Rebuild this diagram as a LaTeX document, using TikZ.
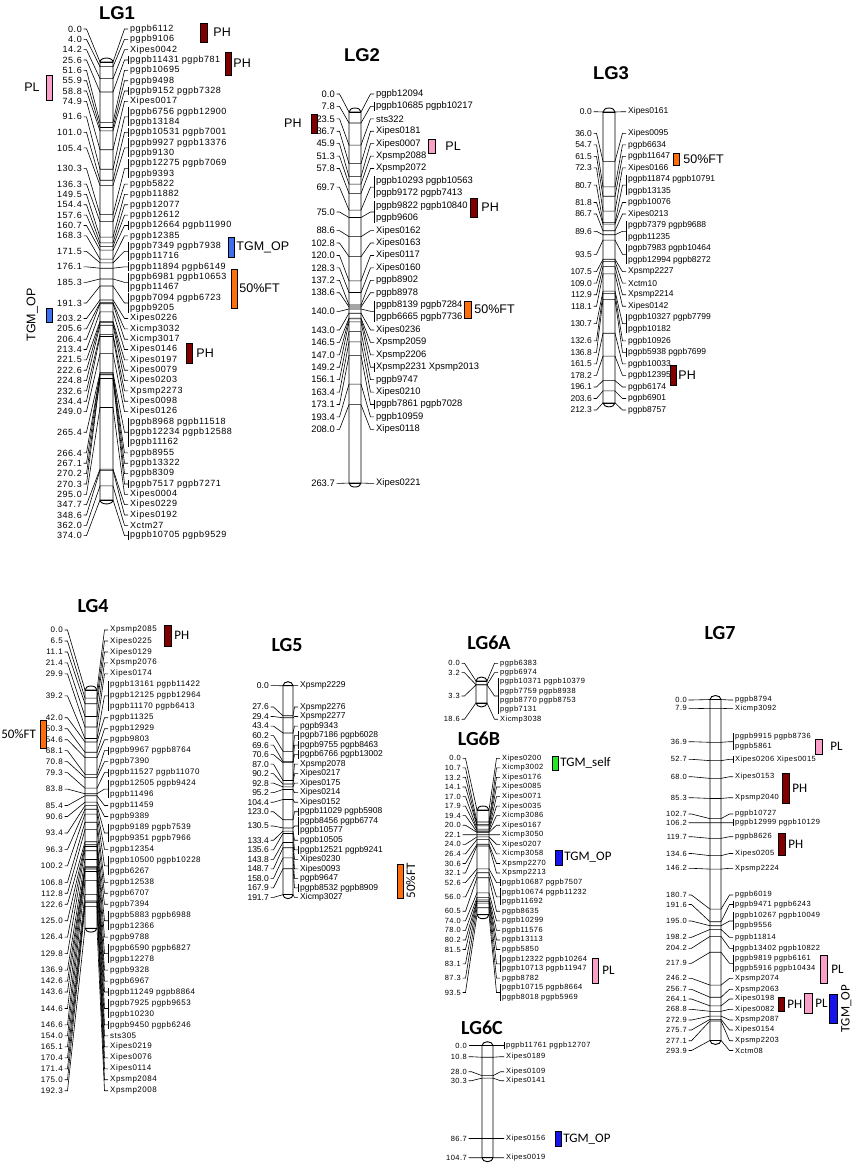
\documentclass[tikz,border=0pt]{standalone}
\usepackage{fontspec}
\setmainfont{Liberation Sans}
\newfontfamily\mapfont[LetterSpace=6]{Liberation Sans}
\newfontfamily\calfont{Carlito}
\usetikzlibrary{positioning}

\definecolor{phcol}{RGB}{128,0,0}
\definecolor{plcol}{RGB}{250,160,200}
\definecolor{ftcol}{RGB}{255,110,10}
\definecolor{opcol}{RGB}{20,20,235}
\definecolor{oplight}{RGB}{60,110,240}
\definecolor{selfcol}{RGB}{40,230,40}

\tikzset{
  lgtitle/.style={inner sep=0pt, font=\bfseries\fontsize{18.5}{20}\selectfont},
  lgtitleb/.style={inner sep=0pt, font=\calfont\bfseries\fontsize{20}{22}\selectfont},
  numlab/.style={anchor=east, inner sep=0pt, font=\lgfont},
  mklab/.style={anchor=west, inner sep=0pt, align=left, font=\lgfont},
  bar/.style={line width=0.9pt, fill=white},
  conn/.style={line width=0.6pt},
  qtl/.style={draw, line width=0.5pt, inner sep=0pt, minimum width=6pt},
  qtltext/.style={inner sep=0pt, font=\fontsize{12.5}{14}\selectfont},
  qtlcal/.style={inner sep=0pt, font=\calfont\fontsize{13}{14}\selectfont},
}

% bar x, bar width, y of 0 cM, px per cM, length, first label y, label pitch, number x, marker x
\newcommand{\setlg}[9]{%
  \def\lgbx{#1}\def\lgbw{#2}\def\lgtz{#3}\def\lgsc{#4}\def\lgcm{#5}%
  \def\lglz{#6}\def\lglp{#7}\def\lgnx{#8}\def\lgmx{#9}}

% one linkage group: #1 name prefix, #2 list of cM/slot/bracket/markers
\newcommand{\drawlg}[2]{%
  \pgfmathsetmacro{\lgtm}{\lgtz+\lgsc*\lgcm}
  \draw[bar] (\lgbx,\lgtz) arc[start angle=180,end angle=360,x radius=\lgbw/2,y radius=4]
    -- (\lgbx+\lgbw,\lgtm) arc[start angle=0,end angle=180,x radius=\lgbw/2,y radius=4] -- cycle;
  \draw[conn] (\lgbx,\lgtz) -- ++(\lgbw,0) (\lgbx,\lgtm) -- ++(\lgbw,0);
  \foreach \lgc/\lgk/\lgb/\lgm [count=\i] in {#2} {
    \pgfmathsetmacro{\yt}{\lgtz+\lgsc*\lgc}
    \pgfmathsetmacro{\yl}{\lglz+\lglp*\lgk}
    \coordinate (#1-tl-\i) at (\lgbx,\yt);
    \coordinate (#1-tr-\i) at (\lgbx+\lgbw,\yt);
    \node[numlab] (#1-num-\i) at (\lgnx,\yl) {\lgc};
    \node[mklab] (#1-mk-\i) at (\lgmx,\yl) {\lgm};
    \draw[conn] ([xshift=1.5]#1-num-\i.east) -- ([xshift=4.5]#1-num-\i.east) -- (#1-tl-\i)
      -- (#1-tr-\i) -- ([xshift=-5.5]#1-mk-\i.west) -- ([xshift=-2]#1-mk-\i.west);
    \ifnum\lgb=1
      \draw[conn] ([xshift=-2]#1-mk-\i.north west) -- ([xshift=-2]#1-mk-\i.south west);
    \fi
  }
}

\begin{document}
\begin{tikzpicture}[x=1pt,y=-1pt]
  \useasboundingbox (0,0) rectangle (855,1168);

  % LG1
  \node[lgtitle] (lg1) at (117,13) {LG1};
  \def\lgfont{\mapfont\fontsize{9}{10.34}\selectfont}
  \setlg{100}{13}{62}{1.171}{374}{29}{10.34}{82}{130}
  \drawlg{lg1}{0.0/0/0/pgpb6112, 4.0/1/0/pgpb9106, 14.2/2/0/Xipes0042,
    25.6/3/1/pgpb11431 pgpb781, 51.6/4/0/pgpb10695, 55.9/5/0/pgpb9498,
    58.8/6/1/pgpb9152 pgpb7328, 74.9/7/0/Xipes0017,
    91.6/8.5/1/pgpb6756 pgpb12900\\pgpb13184, 101.0/10/1/pgpb10531 pgpb7001,
    105.4/11.5/1/pgpb9927 pgpb13376\\pgpb9130, 130.3/13.5/1/pgpb12275 pgpb7069\\pgpb9393,
    136.3/15/0/pgpb5822, 149.5/16/0/pgpb11882, 154.4/17/0/pgpb12077,
    157.6/18/0/pgpb12612, 160.7/19/1/pgpb12664 pgpb11990, 168.3/20/0/pgpb12385,
    171.5/21.5/1/pgpb7349 pgpb7938\\pgpb11716, 176.1/23/1/pgpb11894 pgpb6149,
    185.3/24.5/1/pgpb6981 pgpb10653\\pgpb11467, 191.3/26.5/1/pgpb7094 pgpb6723\\pgpb9205,
    203.2/28/0/Xipes0226, 205.6/29/0/Xicmp3032, 206.4/30/0/Xicmp3017,
    213.4/31/0/Xipes0146, 221.5/32/0/Xipes0197, 222.6/33/0/Xipes0079,
    224.8/34/0/Xipes0203, 232.6/35/0/Xpsmp2273, 234.4/36/0/Xipes0098,
    249.0/37/0/Xipes0126, 265.4/39/1/pgpb8968 pgpb11518\\pgpb12234 pgpb12588\\pgpb11162,
    266.4/41/0/pgpb8955, 267.1/42/0/pgpb13322, 270.2/43/0/pgpb8309,
    270.3/44/1/pgpb7517 pgpb7271, 295.0/45/0/Xipes0004, 347.7/46/0/Xipes0229,
    348.6/47/0/Xipes0192, 362.0/48/0/Xctm27, 374.0/49/1/pgpb10705 pgpb9529}
  \node[qtl, fill=phcol, minimum width=7pt, minimum height=19pt] (lg1-ph1) at (203.5,32.5) {};
  \node[qtltext, right=6pt of lg1-ph1] (lg1-ph1t) {PH};
  \node[qtl, fill=phcol, minimum height=23pt] (lg1-ph2) at (228,63.5) {};
  \node[qtltext, right=2pt of lg1-ph2] (lg1-ph2t) {PH};
  \node[qtl, fill=plcol, minimum height=25pt] (lg1-pl) at (49,87.5) {};
  \node[qtltext, left=6pt of lg1-pl] (lg1-plt) {PL};
  \node[qtl, fill=oplight, minimum height=20pt] (lg1-op1) at (231,247) {};
  \node[qtltext, right=2pt of lg1-op1] (lg1-op1t) {TGM\_OP};
  \node[qtl, fill=ftcol, minimum height=39pt] (lg1-ft) at (234,288.5) {};
  \node[qtltext, right=2pt of lg1-ft] (lg1-ftt) {50\%FT};
  \node[qtl, fill=oplight, minimum height=14pt] (lg1-op2) at (49,315) {};
  \node[qtltext, rotate=90, anchor=south] (lg1-op2t) at ([xshift=-11]lg1-op2.center) {TGM\_OP};
  \node[qtl, fill=phcol, minimum height=20pt] (lg1-ph3) at (189,353) {};
  \node[qtltext, right=4pt of lg1-ph3] (lg1-ph3t) {PH};

  % LG2
  \node[lgtitle] (lg2) at (362,55) {LG2};
  \def\lgfont{\fontsize{9.4}{12.42}\selectfont}
  \setlg{349}{12}{112}{1.407}{263.7}{94}{12.42}{335}{376}
  \drawlg{lg2}{0.0/0/0/pgpb12094, 7.8/1/1/pgpb10685 pgpb10217, 23.5/2/0/sts322,
    36.7/3/0/Xipes0181, 45.9/4/0/Xipes0007, 51.3/5/0/Xpsmp2088, 57.8/6/0/Xpsmp2072,
    69.7/7.5/1/pgpb10293 pgpb10563\\pgpb9172 pgpb7413, 75.0/9.5/1/pgpb9822 pgpb10840\\pgpb9606,
    88.6/11/0/Xipes0162, 102.8/12/0/Xipes0163, 120.0/13/0/Xipes0117, 128.3/14/0/Xipes0160,
    137.2/15/0/pgpb8902, 138.6/16/0/pgpb8978, 140.0/17.5/1/pgpb8139 pgpb7284\\pgpb6665 pgpb7736,
    143.0/19/0/Xipes0236, 146.5/20/0/Xpsmp2059, 147.0/21/0/Xpsmp2206,
    149.2/22/1/Xpsmp2231 Xpsmp2013, 156.1/23/0/pgpb9747, 163.4/24/0/Xipes0210,
    173.1/25/1/pgpb7861 pgpb7028, 193.4/26/0/pgpb10959, 208.0/27/0/Xipes0118,
    263.7/31.35/0/Xipes0221}
  \node[qtl, fill=phcol, minimum height=19pt] (lg2-ph1) at (314,123.5) {};
  \node[qtltext, left=9pt of lg2-ph1] (lg2-ph1t) {PH};
  \node[qtl, fill=plcol, minimum width=7pt, minimum height=14pt] (lg2-pl) at (431.5,146) {};
  \node[qtltext, right=10pt of lg2-pl] (lg2-plt) {PL};
  \node[qtl, fill=phcol, minimum width=7pt, minimum height=19pt] (lg2-ph2) at (473.5,207.5) {};
  \node[qtltext, right=4pt of lg2-ph2] (lg2-ph2t) {PH};
  \node[qtl, fill=ftcol, minimum width=7pt, minimum height=17pt] (lg2-ft) at (467.5,309.5) {};
  \node[qtltext, right=3pt of lg2-ft] (lg2-ftt) {50\%FT};

  % LG3
  \node[lgtitle] (lg3) at (611,73) {LG3};
  \def\lgfont{\fontsize{8.5}{11.53}\selectfont}
  \setlg{603}{12}{112}{1.37}{212.3}{133.3}{11.53}{592}{628}
  \drawlg{lg3}{0.0/-1.87/0/Xipes0161, 36.0/0/0/Xipes0095, 54.7/1/0/pgpb6634,
    61.5/2/0/pgpb11647, 72.3/3/0/Xipes0166, 80.7/4.5/1/pgpb11874 pgpb10791\\pgpb13135,
    81.8/6/0/pgpb10076, 86.7/7/0/Xipes0213, 89.6/8.5/1/pgpb7379 pgpb9688\\pgpb11235,
    93.5/10.5/1/pgpb7983 pgpb10464\\pgpb12994 pgpb8272, 107.5/12/0/Xpsmp2227,
    109.0/13/0/Xctm10, 112.9/14/0/Xpsmp2214, 118.1/15/0/Xipes0142,
    130.7/16.5/1/pgpb10327 pgpb7799\\pgpb10182, 132.6/18/0/pgpb10926,
    136.8/19/1/pgpb5938 pgpb7699, 161.5/20/0/pgpb10033, 178.2/21/0/pgpb12395,
    196.1/22/0/pgpb6174, 203.6/23/0/pgpb6901, 212.3/24/0/pgpb8757}
  \node[qtl, fill=ftcol, minimum height=12pt] (lg3-ft) at (676,159) {};
  \node[qtltext, right=4pt of lg3-ft] (lg3-ftt) {50\%FT};
  \node[qtl, fill=phcol, minimum height=20pt] (lg3-ph) at (673,375) {};
  \node[qtltext, right=2pt of lg3-ph] (lg3-pht) {PH};

  % LG4
  \node[lgtitleb] (lg4) at (93,606) {LG4};
  \def\lgfont{\mapfont\fontsize{8}{10.97}\selectfont}
  \setlg{85}{12}{690}{1.238}{192.3}{630}{10.97}{63}{110}
  \drawlg{lg4}{0.0/0/0/Xpsmp2085, 6.5/1/0/Xipes0225, 11.1/2/0/Xipes0129,
    21.4/3/0/Xpsmp2076, 29.9/4/0/Xipes0174,
    39.2/6/1/pgpb13161 pgpb11422\\pgpb12125 pgpb12964\\pgpb11170 pgpb6413,
    42.0/8/0/pgpb11325, 50.3/9/0/pgpb12929, 54.6/10/0/pgpb9803,
    68.1/11/1/pgpb9967 pgpb8764, 70.8/12/0/pgpb7390, 79.3/13/1/pgpb11527 pgpb11070,
    83.8/14.5/1/pgpb12505 pgpb9424\\pgpb11496, 85.4/16/0/pgpb11459, 90.6/17/0/pgpb9389,
    93.4/18.5/1/pgpb9189 pgpb7539\\pgpb9351 pgpb7966, 96.3/20/0/pgpb12354,
    100.2/21.5/1/pgpb10500 pgpb10228\\pgpb6267, 106.8/23/0/pgpb12538,
    112.8/24/0/pgpb6707, 122.6/25/0/pgpb7394, 125.0/26.5/1/pgpb5883 pgpb6988\\pgpb12366,
    126.4/28/0/pgpb9788, 129.8/29.5/1/pgpb6590 pgpb6827\\pgpb12278,
    136.9/31/0/pgpb9328, 142.6/32/0/pgpb6967, 143.6/33/1/pgpb11249 pgpb8864,
    144.6/34.5/1/pgpb7925 pgpb9653\\pgpb10230, 146.6/36/1/pgpb9450 pgpb6246,
    154.0/37/0/sts305, 165.1/38/0/Xipes0219, 170.4/39/0/Xipes0076,
    171.4/40/0/Xipes0114, 175.0/41/0/Xpsmp2084, 192.3/42/0/Xpsmp2008}
  \node[qtl, fill=phcol, minimum width=7pt, minimum height=21pt] (lg4-ph) at (167.5,635.5) {};
  \node[qtlcal, right=3pt of lg4-ph] (lg4-pht) {PH};
  \node[qtl, fill=ftcol, minimum height=28pt] (lg4-ft) at (43.5,734) {};
  \node[qtlcal, left=4pt of lg4-ft] (lg4-ftt) {50\%FT};

  % LG5
  \node[lgtitleb] (lg5) at (287,645) {LG5};
  \def\lgfont{\fontsize{8.5}{9.52}\selectfont}
  \setlg{283}{10}{685.7}{1.09}{191.7}{707}{9.52}{269}{300}
  \drawlg{lg5}{0.0/-2.24/0/Xpsmp2229, 27.6/0/0/Xpsmp2276, 29.4/1/0/Xpsmp2277,
    43.4/2/0/pgpb9343, 60.2/3/1/pgpb7186 pgpb6028, 69.6/4/1/pgpb9755 pgpb8463,
    70.6/5/1/pgpb6766 pgpb13002, 87.0/6/0/Xpsmp2078, 90.2/7/0/Xipes0217,
    92.8/8/0/Xipes0175, 95.2/9/0/Xipes0214, 104.4/10/0/Xipes0152,
    123.0/11/1/pgpb11029 pgpb5908, 130.5/12.5/1/pgpb8456 pgpb6774\\pgpb10577,
    133.4/14/0/pgpb10505, 135.6/15/1/pgpb12521 pgpb9241, 143.8/16/0/Xipes0230,
    148.7/17/0/Xipes0093, 158.0/18/0/pgpb9647, 167.9/19/1/pgpb8532 pgpb8909,
    191.7/20/0/Xicmp3027}
  \node[qtl, fill=ftcol, minimum height=34pt] (lg5-ft) at (400,881) {};
  \node[qtlcal, rotate=90, anchor=north] (lg5-ftt) at ([xshift=6]lg5-ft.center) {50\%FT};

  % LG6A
  \node[lgtitleb] (lg6a) at (489,643) {LG6A};
  \def\lgfont{\mapfont\fontsize{7.5}{9.33}\selectfont}
  \setlg{476}{11}{681}{1.18}{18.6}{663.3}{9.33}{460}{500}
  \drawlg{lg6a}{0.0/0/0/pgpb6383, 3.2/1/0/pgpb6974,
    3.3/3.5/1/pgpb10371 pgpb10379\\pgpb7759 pgpb8938\\pgpb8770 pgpb8753\\pgpb7131,
    18.6/6/0/Xicmp3038}

  % LG6B
  \node[lgtitleb] (lg6b) at (479,739) {LG6B};
  \def\lgfont{\mapfont\fontsize{7.5}{9.56}\selectfont}
  \setlg{477}{12}{810}{1.12}{93.5}{758.3}{9.56}{461}{502}
  \drawlg{lg6b}{0.0/0/0/Xipes0200, 10.7/1/0/Xicmp3002, 13.2/2/0/Xipes0176,
    14.1/3/0/Xipes0085, 17.0/4/0/Xipes0071, 17.9/5/0/Xipes0035, 19.4/6/0/Xicmp3086,
    20.0/7/0/Xipes0167, 22.1/8/0/Xicmp3050, 24.0/9/0/Xipes0207, 26.4/10/0/Xicmp3058,
    30.6/11/0/Xpsmp2270, 32.1/12/0/Xpsmp2213, 52.6/13/1/pgpb10687 pgpb7507,
    56.0/14.5/1/pgpb10674 pgpb11232\\pgpb11692, 60.5/16/0/pgpb8635,
    74.0/17/0/pgpb10299, 78.0/18/0/pgpb11576, 80.2/19/0/pgpb13113, 81.5/20/0/pgpb5850,
    83.1/21.5/1/pgpb12322 pgpb10264\\pgpb10713 pgpb11947, 87.3/23/0/pgpb8782,
    93.5/24.5/1/pgpb10715 pgpb8664\\pgpb8018 pgpb5969}
  \node[qtl, fill=selfcol, minimum height=14pt] (lg6b-self) at (555,763) {};
  \node[qtlcal, right=2pt of lg6b-self] (lg6b-selft) {TGM\_self};
  \node[qtl, fill=opcol, minimum width=7pt, minimum height=15pt] (lg6b-op) at (558.5,857.5) {};
  \node[qtlcal, right=2pt of lg6b-op] (lg6b-opt) {TGM\_OP};
  \node[qtl, fill=plcol, minimum height=25pt] (lg6b-pl) at (595,970.5) {};
  \node[qtlcal, right=4pt of lg6b-pl] (lg6b-plt) {PL};

  % LG6C
  \node[lgtitleb] (lg6c) at (482,1028) {LG6C};
  \def\lgfont{\mapfont\fontsize{7.5}{9.5}\selectfont}
  \setlg{482}{11}{1045.7}{1.07}{104.7}{0}{1}{467}{506}
  \drawlg{lg6c}{0.0/1045.7/1/pgpb11761 pgpb12707, 10.8/1056.7/0/Xipes0189,
    28.0/1071.7/0/Xipes0109, 30.3/1080.7/0/Xipes0141, 86.7/1138.5/0/Xipes0156,
    104.7/1157.7/0/Xipes0019}
  \node[qtl, fill=opcol, minimum height=15pt] (lg6c-op) at (558,1139) {};
  \node[qtlcal, right=2pt of lg6c-op] (lg6c-opt) {TGM\_OP};

  % LG7
  \node[lgtitleb] (lg7) at (720,633) {LG7};
  \def\lgfont{\mapfont\fontsize{7.5}{10}\selectfont}
  \setlg{710}{11}{699.5}{1.16}{293.9}{0}{1}{687}{735}
  \drawlg{lg7}{0.0/700/0/pgpb8794, 7.9/708.3/0/Xicmp3092,
    36.9/741.7/1/pgpb9915 pgpb8736\\pgpb5861, 52.7/759.3/1/Xipes0206 Xipes0015,
    68.0/776.7/0/Xipes0153, 85.3/797.7/0/Xpsmp2040, 102.7/814/0/pgpb10727,
    106.2/822.7/1/pgpb12999 pgpb10129, 119.7/836.7/0/pgpb8626, 134.6/853.5/0/Xipes0205,
    146.2/868.3/0/Xpsmp2224, 180.7/895/0/pgpb6019, 191.6/904.5/1/pgpb9471 pgpb6243,
    195.0/921/1/pgpb10267 pgpb10049\\pgpb9556, 198.2/937.3/0/pgpb11814,
    204.2/948.3/1/pgpb13402 pgpb10822, 217.9/963.3/1/pgpb9819 pgpb6161\\pgpb5916 pgpb10434,
    246.2/978.3/0/Xpsmp2074, 256.7/989.3/0/Xpsmp2063, 264.1/999/0/Xipes0198,
    268.8/1009.3/0/Xipes0082, 272.9/1020/0/Xpsmp2087, 275.7/1030/0/Xipes0154,
    277.1/1040.7/0/Xpsmp2203, 293.9/1050.5/0/Xctm08}
  \node[qtl, fill=plcol, minimum width=7pt, minimum height=15pt] (lg7-pl1) at (818.5,746.5) {};
  \node[qtlcal, right=8pt of lg7-pl1] (lg7-pl1t) {PL};
  \node[qtl, fill=phcol, minimum width=7pt, minimum height=30pt] (lg7-ph1) at (785.5,788) {};
  \node[qtlcal, right=3pt of lg7-ph1] (lg7-ph1t) {PH};
  \node[qtl, fill=phcol, minimum width=7pt, minimum height=22pt] (lg7-ph2) at (781.5,844) {};
  \node[qtlcal, right=3pt of lg7-ph2] (lg7-ph2t) {PH};
  \node[qtl, fill=plcol, minimum width=7pt, minimum height=28pt] (lg7-pl2) at (823.5,969) {};
  \node[qtlcal, right=4pt of lg7-pl2] (lg7-pl2t) {PL};
  \node[qtl, fill=phcol, minimum height=14pt] (lg7-ph3) at (781,1004) {};
  \node[qtlcal, right=3pt of lg7-ph3] (lg7-ph3t) {PH};
  \node[qtl, fill=plcol, minimum width=8pt, minimum height=20pt] (lg7-pl3) at (808,1003) {};
  \node[qtlcal, right=3pt of lg7-pl3] (lg7-pl3t) {PL};
  \node[qtl, fill=opcol, minimum width=8pt, minimum height=29pt] (lg7-op) at (833,1008.5) {};
  \node[qtlcal, rotate=90, anchor=north] (lg7-opt) at ([xshift=8]lg7-op.center) {TGM\_OP};
\end{tikzpicture}
\end{document}
